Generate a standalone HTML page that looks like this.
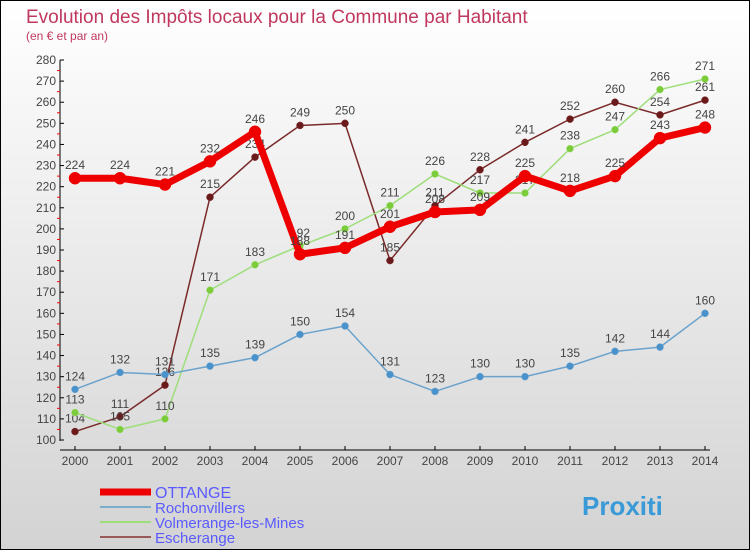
<!DOCTYPE html>
<html><head><meta charset="utf-8"><style>
body{margin:0}
#c{width:750px;height:550px;position:relative;background:linear-gradient(#ffffff,#d3d3d3);box-sizing:border-box;border:1px solid #000;font-family:"Liberation Sans",sans-serif}
</style></head><body>
<div id="c">
<svg id="s" width="750" height="550" style="position:absolute;left:-1px;top:-1px">
<text x="26" y="23" font-size="19" fill="#c0385e">Evolution des Impôts locaux pour la Commune par Habitant</text>
<text x="26" y="40" font-size="12" fill="#c0385e">(en € et par an)</text>
</svg>
</div>
<script>
const years=[2000,2001,2002,2003,2004,2005,2006,2007,2008,2009,2010,2011,2012,2013,2014];
const ottange=[224,224,221,232,246,188,191,201,208,209,225,218,225,243,248];
const rochon=[124,132,131,135,139,150,154,131,123,130,130,135,142,144,160];
const volmer=[113,105,110,171,183,192,200,211,226,217,217,238,247,266,271];
const escher=[104,111,126,215,234,249,250,185,211,228,241,252,260,254,261];
const yTicks=[100,110,120,130,140,150,160,170,180,190,200,210,220,230,240,250,260,270,280];
const NS="http://www.w3.org/2000/svg";const s=document.getElementById('s');
const X=i=>75+i*45, Y=v=>440-(v-100)*380/180;
function mk(t,a,p){const e=document.createElementNS(NS,t);for(const k in a)e.setAttribute(k,a[k]);(p||s).appendChild(e);return e;}
let ax=mk('line',{x1:60,y1:60,x2:60,y2:441,stroke:'#000'});


let bx=mk('line',{x1:60,y1:450,x2:710,y2:450,stroke:'#000'});


yTicks.forEach((v,i)=>{mk('line',{x1:60,y1:Y(v),x2:64,y2:Y(v),stroke:'#000'});
if(i<yTicks.length-1)mk('line',{x1:57,y1:Y(v+5),x2:60,y2:Y(v+5),stroke:'#f00'});
const t=mk('text',{x:56,y:Y(v)+4,'text-anchor':'end','font-size':12,fill:'#444'});t.textContent=v;

});
years.forEach((y,i)=>{mk('line',{x1:X(i),y1:446,x2:X(i),y2:450,stroke:'#000'});
const t=mk('text',{x:X(i),y:465,'text-anchor':'middle','font-size':12,fill:'#444'});t.textContent=y;

});
function series(d,col,w,r,name,dot){const g=mk('g',{});


mk('polyline',{points:d.map((v,i)=>X(i)+','+Y(v)).join(' '),fill:'none',stroke:col,'stroke-width':w,'stroke-linejoin':'round'},g);
d.forEach((v,i)=>{const c=mk('circle',{cx:X(i),cy:Y(v),r:r,fill:dot,stroke:col,'stroke-width':0.5},g);


const t=mk('text',{x:X(i),y:Y(v)-9,'text-anchor':'middle','font-size':12,fill:'#444'},g);t.textContent=v;});}
series(escher,'#7a2a2a',1.5,3.5,'escherange-series','#6a1a1a');
series(volmer,'#9ede7a',1.5,3.5,'volmerange-series','#7ccc3a');
series(rochon,'#6aa2cc',1.5,3.5,'rochonvillers-series','#4a92cc');
series(ottange,'#ee0000',7,6,'ottange-series','#ee0000');
const leg=[['OTTANGE','#ee0000',7],['Rochonvillers','#7aaccc',2],['Volmerange-les-Mines','#9ede7a',2],['Escherange','#9a5a5a',2]];
leg.forEach((l,i)=>{const y=492+i*15;const g=mk('g',{});


mk('line',{x1:100,y1:y,x2:151,y2:y,stroke:l[1],'stroke-width':l[2]},g);
const t=mk('text',{x:155,y:y+6,'font-size':i==0?16:15,fill:'#5a5aff'},g);t.textContent=l[0];});
const lg=mk('text',{x:582,y:515,'font-size':26,'font-weight':'bold',fill:'#3a9ad8'});lg.textContent='Proxiti';


</script>
</body></html>
